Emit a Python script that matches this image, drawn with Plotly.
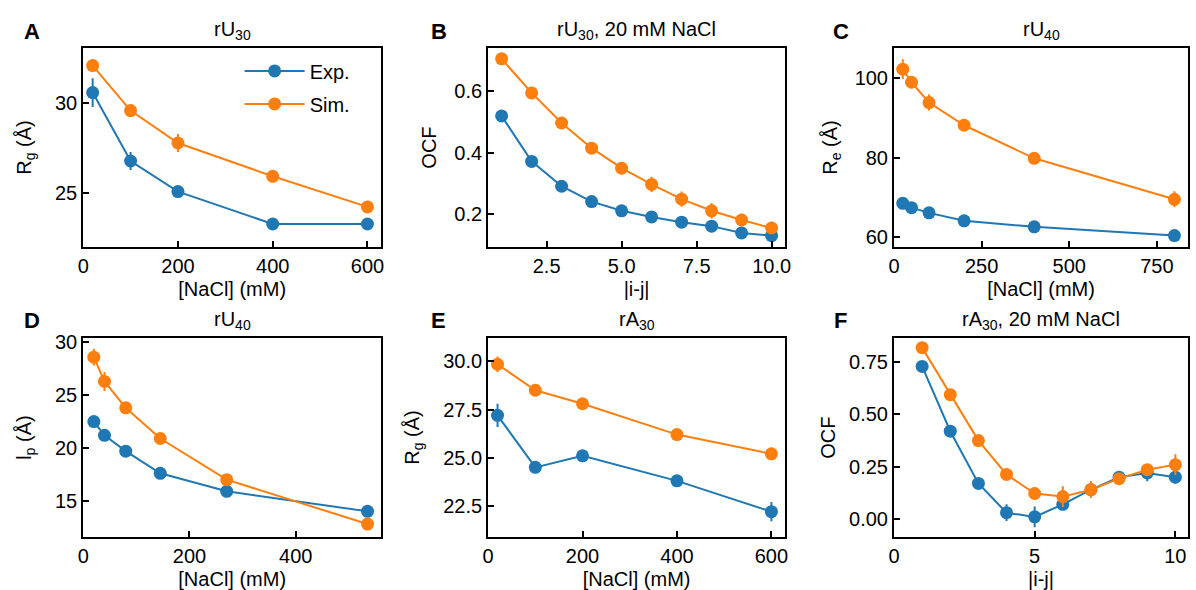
import plotly.graph_objects as go

W, H = 1196, 590
BLUE = "#1f77b4"
ORANGE = "#ff7f0e"
FONT = "Liberation Sans, Arial, sans-serif"

# ---- data ----
A_x = [20, 100, 200, 400, 600]
A_exp = [30.6, 26.8, 25.1, 23.3, 23.3]
A_exp_err = [0.8, 0.5, 0.2, 0.15, 0.15]
A_sim = [32.1, 29.6, 27.8, 25.95, 24.25]
A_sim_err = [0.2, 0.25, 0.5, 0.2, 0.2]

B_x = [1, 2, 3, 4, 5, 6, 7, 8, 9, 10]
B_exp = [0.52, 0.372, 0.291, 0.241, 0.211, 0.191, 0.174, 0.161, 0.139, 0.130]
B_exp_err = [0.005, 0.005, 0.005, 0.005, 0.005, 0.005, 0.005, 0.005, 0.005, 0.005]
B_sim = [0.706, 0.595, 0.497, 0.415, 0.350, 0.297, 0.249, 0.211, 0.181, 0.155]
B_sim_err = [0.005, 0.005, 0.008, 0.01, 0.02, 0.025, 0.025, 0.025, 0.02, 0.02]

C_x = [25, 50, 100, 200, 400, 800]
C_exp = [68.5, 67.4, 66.1, 64.1, 62.6, 60.4]
C_exp_err = [0.5, 0.5, 0.5, 0.5, 0.5, 0.5]
C_sim = [102.2, 98.9, 93.8, 88.1, 79.8, 69.5]
C_sim_err = [2.5, 1.5, 2.0, 1.0, 1.0, 2.0]

D_x = [20, 40, 80, 145, 270, 535]
D_exp = [22.5, 21.2, 19.7, 17.6, 15.9, 14.0]
D_exp_err = [0.3, 0.3, 0.3, 0.3, 0.3, 0.3]
D_sim = [28.6, 26.3, 23.8, 20.9, 17.0, 12.8]
D_sim_err = [0.8, 0.9, 0.3, 0.3, 0.3, 0.3]

E_x = [20, 100, 200, 400, 600]
E_exp = [27.2, 24.5, 25.1, 23.8, 22.2]
E_exp_err = [0.6, 0.2, 0.2, 0.2, 0.5]
E_sim = [29.85, 28.5, 27.8, 26.2, 25.2]
E_sim_err = [0.4, 0.2, 0.2, 0.2, 0.3]

F_x = [1, 2, 3, 4, 5, 6, 7, 8, 9, 10]
F_exp = [0.73, 0.42, 0.17, 0.03, 0.01, 0.07, 0.14, 0.20, 0.22, 0.20]
F_exp_err = [0.01, 0.01, 0.01, 0.04, 0.05, 0.02, 0.02, 0.03, 0.04, 0.03]
F_sim = [0.82, 0.595, 0.375, 0.213, 0.122, 0.107, 0.14, 0.193, 0.236, 0.26]
F_sim_err = [0.01, 0.01, 0.01, 0.01, 0.03, 0.05, 0.04, 0.02, 0.02, 0.05]

panels = [
    dict(letter="A", title="rU<sub>30</sub>", x=A_x, exp=A_exp, exp_err=A_exp_err, sim=A_sim, sim_err=A_sim_err,
         xtitle="[NaCl] (mM)", ytitle="R<sub>g</sub> (Å)", xr=[0, 629], yr=[22.04, 33.05],
         xticks=[0, 200, 400, 600], yticks=[25, 30], xfmt="", yfmt=""),
    dict(letter="B", title="rU<sub>30</sub>, 20 mM NaCl", x=B_x, exp=B_exp, exp_err=B_exp_err, sim=B_sim, sim_err=B_sim_err,
         xtitle="|i-j|", ytitle="OCF", xr=[0.55, 10.45], yr=[0.094, 0.74],
         xticks=[2.5, 5.0, 7.5, 10.0], yticks=[0.2, 0.4, 0.6], xfmt=".1f", yfmt=".1f"),
    dict(letter="C", title="rU<sub>40</sub>", x=C_x, exp=C_exp, exp_err=C_exp_err, sim=C_sim, sim_err=C_sim_err,
         xtitle="[NaCl] (mM)", ytitle="R<sub>e</sub> (Å)", xr=[0, 838.75], yr=[57.6, 107.4],
         xticks=[0, 250, 500, 750], yticks=[60, 80, 100], xfmt="", yfmt=""),
    dict(letter="D", title="rU<sub>40</sub>", x=D_x, exp=D_exp, exp_err=D_exp_err, sim=D_sim, sim_err=D_sim_err,
         xtitle="[NaCl] (mM)", ytitle="l<sub>p</sub> (Å)", xr=[0, 560.75], yr=[11.6, 30.37],
         xticks=[0, 200, 400], yticks=[15, 20, 25, 30], xfmt="", yfmt=""),
    dict(letter="E", title="rA<sub>30</sub>", x=E_x, exp=E_exp, exp_err=E_exp_err, sim=E_sim, sim_err=E_sim_err,
         xtitle="[NaCl] (mM)", ytitle="R<sub>g</sub> (Å)", xr=[0, 629], yr=[20.9, 31.19],
         xticks=[0, 200, 400, 600], yticks=[22.5, 25.0, 27.5, 30.0], xfmt="", yfmt=".1f"),
    dict(letter="F", title="rA<sub>30</sub>, 20 mM NaCl", x=F_x, exp=F_exp, exp_err=F_exp_err, sim=F_sim, sim_err=F_sim_err,
         xtitle="|i-j|", ytitle="OCF", xr=[0, 10.45], yr=[-0.085, 0.864],
         xticks=[0, 5, 10], yticks=[0.0, 0.25, 0.5, 0.75], xfmt="", yfmt=".2f"),
]

# layout (pixels): axes boxes, y-title standoffs, panel letter centres
cols = [(78, 379), (487, 787), (897, 1194)]
rows = [(42, 243), (336, 537)]
ytitle_standoff = [18, 12, 12, 18, 18, 8]
letter_pos_x = [26, 437, 843]
letter_pos_y = [25, 318]

fig = go.Figure()
annotations = []
TF = 20

for i, p in enumerate(panels):
    r, c = divmod(i, 3)
    x0, x1 = cols[c]
    t, b = rows[r]
    n = i + 1
    xa = "xaxis" if n == 1 else f"xaxis{n}"
    ya = "yaxis" if n == 1 else f"yaxis{n}"
    xref = "x" if n == 1 else f"x{n}"
    yref = "y" if n == 1 else f"y{n}"
    for name, vals, err, col in [("Exp.", p["exp"], p["exp_err"], BLUE), ("Sim.", p["sim"], p["sim_err"], ORANGE)]:
        fig.add_trace(go.Scatter(
            x=p["x"], y=vals, xaxis=xref, yaxis=yref, name=name, legendgroup=name,
            mode="lines+markers", showlegend=(i == 0),
            line=dict(color=col, width=2),
            marker=dict(color=col, size=13),
            error_y=dict(type="data", array=err, visible=True, color=col, thickness=2, width=0),
        ))
    axis_common = dict(showline=True, linecolor="black", linewidth=2, mirror=True,
                       ticks="inside", ticklen=6, tickwidth=2, tickcolor="black",
                       showgrid=False, zeroline=False,
                       tickfont=dict(family=FONT, size=TF, color="black"))
    fig.layout[xa] = dict(axis_common, domain=[x0 / W, x1 / W], anchor=yref, range=p["xr"],
                          tickvals=p["xticks"], tickformat=p["xfmt"],
                          title=dict(text=p["xtitle"], font=dict(family=FONT, size=TF, color="black"), standoff=6))
    fig.layout[ya] = dict(axis_common, domain=[1 - b / H, 1 - t / H], anchor=xref, range=p["yr"],
                          tickvals=p["yticks"], tickformat=p["yfmt"],
                          title=dict(text=p["ytitle"], font=dict(family=FONT, size=TF, color="black"),
                                     standoff=ytitle_standoff[i]))
    annotations.append(dict(text=p["title"], x=(x0 + x1) / 2 / W, y=1 - (t - 3) / H, xref="paper", yref="paper",
                            xanchor="center", yanchor="bottom", showarrow=False,
                            font=dict(family=FONT, size=TF, color="black")))
    annotations.append(dict(text=f"<b>{p['letter']}</b>", x=letter_pos_x[c] / W, y=1 - letter_pos_y[r] / H,
                            xref="paper", yref="paper",
                            xanchor="center", yanchor="middle", showarrow=False,
                            font=dict(family=FONT, size=22, color="black")))

fig.update_layout(
    width=W, height=H, margin=dict(l=0, r=0, t=0, b=0),
    paper_bgcolor="white", plot_bgcolor="white",
    annotations=annotations,
    showlegend=True,
    legend=dict(x=236 / W, y=1 - 45 / H, xanchor="left", yanchor="top",
                font=dict(family=FONT, size=TF, color="black"),
                bgcolor="rgba(0,0,0,0)", tracegroupgap=4, itemwidth=60),
)

fig.write_html("out.html", config={"displayModeBar": False},
               post_script="document.body.style.margin='0';document.body.style.padding='0';document.body.style.overflow='hidden';")
